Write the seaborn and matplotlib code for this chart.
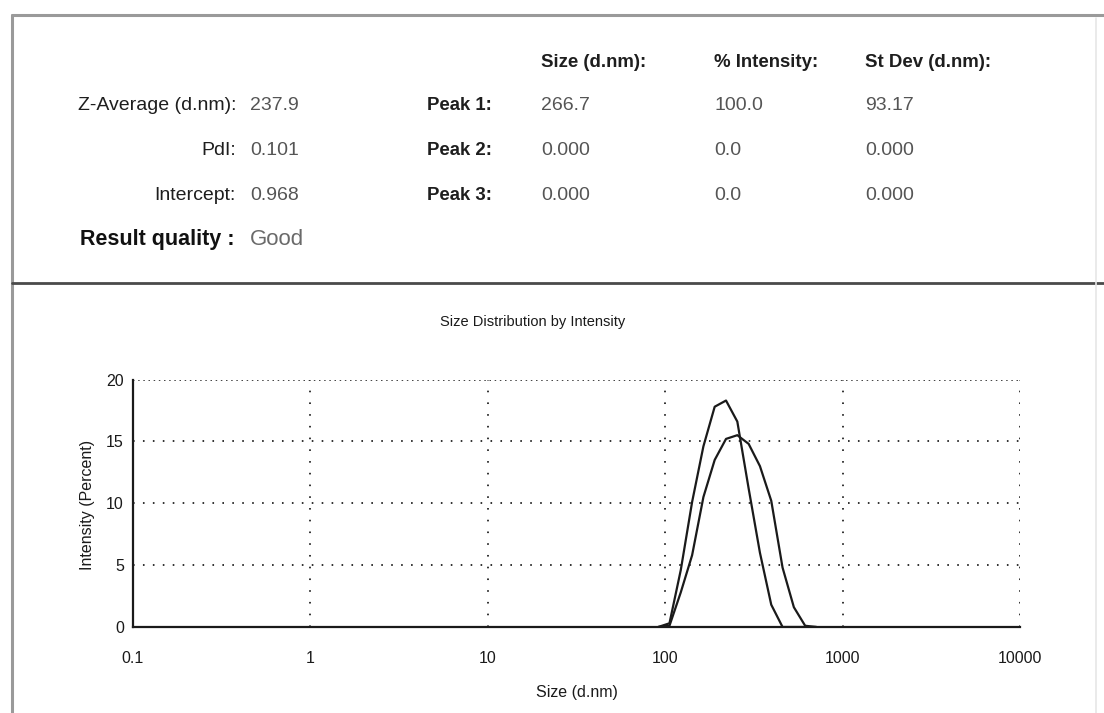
import numpy as np
import pandas as pd
import matplotlib
matplotlib.use("Agg")
import matplotlib.pyplot as plt
import seaborn as sns
from matplotlib.lines import Line2D
from matplotlib.ticker import LogLocator, MultipleLocator, FixedLocator, NullFormatter

# ---------------- data ----------------
sizes_nm = [91.28, 105.7, 122.4, 141.8, 164.2, 190.1, 220.2, 255.0, 295.3,
            342.0, 396.1, 458.7, 531.2, 615.1, 712.4]
run_a = [0, 0.3, 4.6, 10.1, 14.6, 17.8, 18.3, 16.6, 11.2, 6.0, 1.8, 0, 0, 0, 0]
run_b = [0, 0.1, 2.8, 5.8, 10.5, 13.5, 15.2, 15.5, 14.8, 13.0, 10.2, 4.8, 1.6, 0.1, 0]

x_ticks = [0.1, 1, 10, 100, 1000, 10000]
x_tick_labels = ["0.1", "1", "10", "100", "1000", "10000"]
y_ticks = [0, 5, 10, 15, 20]

summary_labels = ["Z-Average (d.nm):", "PdI:", "Intercept:"]
summary_values = ["237.9", "0.101", "0.968"]
quality_label = "Result quality :"
quality_value = "Good"
peak_labels = ["Peak 1:", "Peak 2:", "Peak 3:"]
col_headers = ["Size (d.nm):", "% Intensity:", "St Dev (d.nm):"]
peak_sizes = ["266.7", "0.000", "0.000"]
peak_intensity = ["100.0", "0.0", "0.0"]
peak_stdev = ["93.17", "0.000", "0.000"]

# ---------------- style ----------------
sns.set_style("white")
FONT = ["Liberation Sans Narrow", "Liberation Sans", "DejaVu Sans"]
plt.rcParams["font.family"] = FONT

W, H = 1104, 713
fig = plt.figure(figsize=(W / 100, H / 100), dpi=100)

def fx(px):
    return px / W

def fy(py):
    return 1 - py / H

# panel borders
fig.add_artist(Line2D([fx(12), 1], [fy(15), fy(15)], color="#9a9a9a", lw=2.2))
fig.add_artist(Line2D([fx(12), fx(12)], [fy(15), 0], color="#9a9a9a", lw=2.2))
fig.add_artist(Line2D([fx(12), 1], [fy(283), fy(283)], color="#4a4a4a", lw=2.0))
fig.add_artist(Line2D([fx(1096), fx(1096)], [fy(18), 0], color="#e6e6e6", lw=1.2))

# ---------------- header table ----------------
lab_c = "#1e1e1e"
val_c = "#555555"
fs = 14.0
fsb = 13.4
BL = 7  # baseline offset below visual row centre, px
rows_y = [103, 148, 193]

def put(x, y, s, **kw):
    fig.text(fx(x), fy(y + BL), s, va="baseline", **kw)

for lab, val, y in zip(summary_labels, summary_values, rows_y):
    put(236, y, lab, ha="right", fontsize=fs, color=lab_c)
    put(250, y, val, ha="left", fontsize=fs, color=val_c)
put(234, 238, quality_label, ha="right", fontsize=15.5, color="#111111", fontweight="bold")
put(250, 238, quality_value, ha="left", fontsize=16, color="#6a6a6a")

col_x = [541, 714, 865]
for hdr, cx in zip(col_headers, col_x):
    put(cx, 60, hdr, ha="left", fontsize=fsb, color=lab_c, fontweight="bold")
for i, y in enumerate(rows_y):
    put(427, y, peak_labels[i], ha="left", fontsize=fsb, color=lab_c, fontweight="bold")
    put(col_x[0], y, peak_sizes[i], ha="left", fontsize=fs, color=val_c)
    put(col_x[1], y, peak_intensity[i], ha="left", fontsize=fs, color=val_c)
    put(col_x[2], y, peak_stdev[i], ha="left", fontsize=fs, color=val_c)

# ---------------- plot ----------------
ax_left, ax_right, ax_top, ax_bottom = 133, 1020, 379.5, 627
ax = fig.add_axes([fx(ax_left), fy(ax_bottom), (ax_right - ax_left) / W,
                   (ax_bottom - ax_top) / H])

df = pd.DataFrame({
    "size": sizes_nm * 2,
    "intensity": run_a + run_b,
    "run": ["A"] * len(sizes_nm) + ["B"] * len(sizes_nm),
})
sns.lineplot(data=df, x="size", y="intensity", hue="run",
             palette=["#1a1a1a", "#1a1a1a"], linewidth=1.6, legend=False, ax=ax,
             zorder=5)

ax.set_xscale("log")
ax.set_xlim(0.1, 10000)
ax.set_ylim(0, 20)
ax.set_facecolor("none")

for s in ["top", "right"]:
    ax.spines[s].set_visible(False)
for s in ["left", "bottom"]:
    ax.spines[s].set_color("#1a1a1a")
    ax.spines[s].set_linewidth(1.6)

# dotted grid
for y in y_ticks[1:-1]:
    ax.axhline(y, color="#222222", lw=1.3, ls=(0, (0.9, 4.6)), zorder=1)
ax.axhline(y_ticks[-1], color="#222222", lw=1.2, ls=(0, (0.9, 2.2)), zorder=1)
for x in x_ticks[1:]:
    ax.axvline(x, color="#222222", lw=1.3, ls=(0, (0.9, 5.6)), zorder=1)

ax.xaxis.set_major_locator(FixedLocator(x_ticks))
ax.set_xticklabels(x_tick_labels)
ax.xaxis.set_minor_locator(LogLocator(base=10, subs=np.arange(2, 10), numticks=20))
ax.xaxis.set_minor_formatter(NullFormatter())
ax.yaxis.set_major_locator(FixedLocator(y_ticks))
ax.yaxis.set_minor_locator(MultipleLocator(2.5))

ax.tick_params(axis="both", which="major", direction="inout", length=9, width=1.4,
               color="#1a1a1a", labelsize=11.5, labelcolor="#1a1a1a")
ax.tick_params(axis="both", which="minor", direction="inout", length=6, width=1.0,
               color="#1a1a1a")
ax.tick_params(axis="x", which="major", pad=13)
ax.tick_params(axis="y", which="major", pad=2)

ax.set_xlabel("")
ax.set_ylabel("")
fig.text(fx(88), fy(505), "Intensity (Percent)", rotation=90, ha="center", va="center",
         fontsize=11.5, color="#1a1a1a")
fig.text(fx(577), fy(692), "Size (d.nm)", ha="center", va="center",
         fontsize=11.5, color="#1a1a1a")
fig.text(fx(533), fy(322), "Size Distribution by Intensity", ha="center", va="center",
         fontsize=10.5, color="#1a1a1a")

fig.savefig("out.png", dpi=100, facecolor="white")
